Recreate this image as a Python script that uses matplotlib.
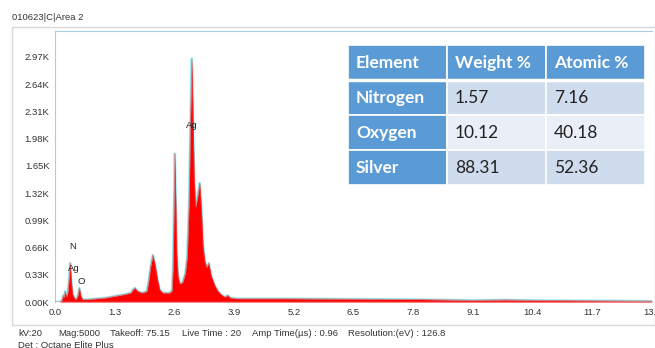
import matplotlib
matplotlib.use('Agg')
import matplotlib.pyplot as plt
from matplotlib.patches import Rectangle

# spectrum (keV, counts in K)
energy = [0.00, 0.10, 0.15, 0.18, 0.20, 0.22, 0.25, 0.28, 0.31, 0.33, 0.35, 0.38,
          0.42, 0.46, 0.50, 0.53, 0.56, 0.60, 0.70, 0.90, 1.10, 1.30, 1.50, 1.65,
          1.70, 1.74, 1.80, 1.90, 2.00, 2.04, 2.08, 2.13, 2.18, 2.23, 2.28, 2.35,
          2.50, 2.55, 2.57, 2.59, 2.61, 2.63, 2.65, 2.68, 2.72, 2.78, 2.84, 2.88,
          2.92, 2.95, 2.98, 3.00, 3.03, 3.06, 3.10, 3.15, 3.19, 3.22, 3.26, 3.30,
          3.35, 3.40, 3.48, 3.55, 3.62, 3.70, 3.76, 3.82, 3.95, 5.00, 6.50, 8.00,
          9.10, 9.80, 10.40, 11.70, 13.00]
counts = [0.00, 0.00, 0.02, 0.08, 0.05, 0.13, 0.06, 0.12, 0.30, 0.47, 0.30, 0.10,
          0.05, 0.03, 0.08, 0.17, 0.08, 0.03, 0.03, 0.04, 0.05, 0.07, 0.09, 0.11,
          0.15, 0.17, 0.13, 0.11, 0.13, 0.25, 0.42, 0.57, 0.45, 0.28, 0.15, 0.11,
          0.11, 0.14, 0.40, 1.10, 1.80, 1.20, 0.60, 0.30, 0.22, 0.24, 0.35, 0.55,
          1.20, 2.20, 2.95, 2.40, 1.50, 1.15, 1.25, 1.44, 1.10, 0.70, 0.50, 0.42,
          0.47, 0.32, 0.20, 0.13, 0.09, 0.06, 0.08, 0.05, 0.04, 0.04, 0.035, 0.03,
          0.02, 0.025, 0.02, 0.015, 0.01]

xticks = [0.0, 1.3, 2.6, 3.9, 5.2, 6.5, 7.8, 9.1, 10.4, 11.7, 13.0]
yticks = [0.0, 0.33, 0.66, 0.99, 1.32, 1.65, 1.98, 2.31, 2.64, 2.97]

peak_labels = ['N', 'Ag', 'O', 'Ag']
peak_x = [0.38, 0.41, 0.57, 2.98]
peak_y = [0.67, 0.41, 0.25, 2.14]

headers = ['Element', 'Weight %', 'Atomic %']
elements = ['Nitrogen', 'Oxygen', 'Silver']
weight_pct = ['1.57', '10.12', '88.31']
atomic_pct = ['7.16', '40.18', '52.36']

footer = ['kV:20', 'Mag:5000', 'Takeoff: 75.15', 'Live Time : 20',
          'Amp Time(\u00b5s) : 0.96', 'Resolution:(eV) : 126.8']
footer_x = [18, 58, 110, 182, 252, 348]

W, H = 655, 348
fig = plt.figure(figsize=(W / 100, H / 100), dpi=100)
fig.patch.set_facecolor('white')
fam = ['Liberation Sans Narrow', 'Liberation Sans', 'DejaVu Sans']
small = dict(family=fam, fontsize=6.8, color='#333333')

# outer gray frame
fig.patches.append(Rectangle((12 / W, 1 - 325 / H), (W - 12) / W, (325 - 27) / H,
                             transform=fig.transFigure, fill=False,
                             edgecolor='#d8d8d8', linewidth=1))
fig.text(12 / W, 1 - 17 / H, '010623|C|Area 2', va='center', ha='left', **small)

ax = fig.add_axes([55 / W, 1 - 302 / H, (652 - 55) / W, (302 - 31) / H])
ax.plot(energy, counts, color='#8eeef5', linewidth=1.8, zorder=1)
ax.fill_between(energy, counts, 0, color='#ff0000', linewidth=0, zorder=2)
ax.plot(energy, counts, color='#ff4040', linewidth=0.6, alpha=0.7, zorder=3)
ax.axhline(0, color='#a9cbe8', linewidth=1, zorder=4)

for lab, x, y in zip(peak_labels, peak_x, peak_y):
    ax.text(x, y, lab, ha='center', va='center', fontsize=6.8,
            family=fam, color='#222222', zorder=5)

ax.set_xlim(0, 13.0)
ax.set_ylim(0, 3.285)
ax.set_xticks(xticks)
ax.set_xticklabels(['%.1f' % v for v in xticks])
ax.set_yticks(yticks)
ax.set_yticklabels(['%.2fK' % v for v in yticks])
ax.tick_params(length=0, pad=4, labelsize=6.8, labelcolor='#333333')
for lbl in ax.get_xticklabels() + ax.get_yticklabels():
    lbl.set_family(fam)
ax.spines['right'].set_visible(False)
ax.spines['bottom'].set_visible(False)
ax.spines['left'].set_color('#a9cbe8')
ax.spines['top'].set_color('#a9cbe8')

# element table
tax = fig.add_axes([348 / W, 1 - 185 / H, (645 - 348) / W, (185 - 45) / H])
tax.set_xlim(0, 3)
tax.set_ylim(4, 0)
tax.axis('off')
dark = '#5b9bd5'
rows_bg = ['#cfdcee', '#e9eef7', '#cfdcee']
tfont = dict(family=['Lato', 'DejaVu Sans'], fontsize=12.5, va='center', ha='left')
for j, h in enumerate(headers):
    tax.add_patch(Rectangle((j, 0), 1, 1, facecolor=dark, edgecolor='white', linewidth=1.2))
    tax.text(j + 0.08, 0.5, h, color='white', fontweight='bold', **tfont)
for i in range(3):
    tax.add_patch(Rectangle((0, i + 1), 1, 1, facecolor=dark, edgecolor='white', linewidth=1.2))
    tax.text(0.08, i + 1.5, elements[i], color='white', fontweight='bold', **tfont)
    for j, v in enumerate([weight_pct[i], atomic_pct[i]]):
        tax.add_patch(Rectangle((j + 1, i + 1), 1, 1, facecolor=rows_bg[i],
                                edgecolor='white', linewidth=1.2))
        tax.text(j + 1.08, i + 1.5, v, color='#222222', **tfont)
tax.plot([0, 3], [1, 1], color='white', linewidth=2.5)

for t, x in zip(footer, footer_x):
    fig.text(x / W, 1 - 334 / H, t, va='center', ha='left', **small)
fig.text(18 / W, 1 - 346 / H, 'Det : Octane Elite Plus', va='center', ha='left', **small)

fig.savefig('out.png', dpi=100)
